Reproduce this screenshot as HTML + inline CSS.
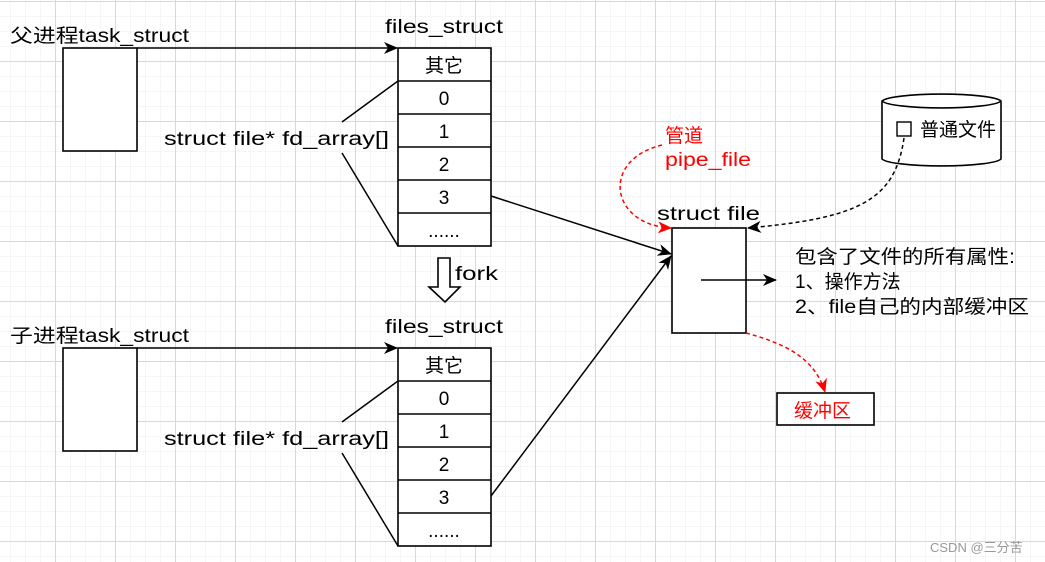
<!DOCTYPE html>
<html><head><meta charset="utf-8"><style>
html,body{margin:0;padding:0;background:#fff}
svg{display:block}
text{font-family:"Liberation Sans","Noto Sans CJK SC",sans-serif;font-size:19px;fill:#000}
.r{fill:#f00}
</style></head><body>
<svg width="1045" height="562" viewBox="0 0 1045 562" xmlns="http://www.w3.org/2000/svg">
<defs>
<pattern id="mi" width="15" height="15" patternUnits="userSpaceOnUse" x="10" y="1">
<path d="M0 0H15M0 0V15" stroke="#eeeeee" stroke-width="1" fill="none"/></pattern>
<pattern id="ma" width="60" height="60" patternUnits="userSpaceOnUse" x="55" y="1">
<path d="M0 0.5H60M0.5 0V60" stroke="#d8d8d8" stroke-width="1" fill="none"/></pattern>
<marker id="ab" markerWidth="14" markerHeight="14" refX="13" refY="6" orient="auto" markerUnits="userSpaceOnUse"><path d="M0,0 L14,6 L0,12 L4,6z" fill="#000"/></marker>
<marker id="ar" markerWidth="14" markerHeight="14" refX="13" refY="6" orient="auto" markerUnits="userSpaceOnUse"><path d="M0,0 L14,6 L0,12 L4,6z" fill="#f00"/></marker>
</defs>
<rect width="1045" height="562" fill="url(#mi)"/>
<rect width="1045" height="562" fill="url(#ma)"/>

<g stroke="#000" stroke-width="1.6" fill="#fff">
<rect x="63" y="48" width="74" height="103"/>
<rect x="63" y="348" width="74" height="103"/>
<rect x="398" y="48" width="93" height="198"/>
<path d="M398 81H491M398 114H491M398 147H491M398 180H491M398 213H491" fill="none"/>
<rect x="398" y="348" width="93" height="198"/>
<path d="M398 381H491M398 414H491M398 447H491M398 480H491M398 513H491" fill="none"/>
<rect x="672" y="228" width="74" height="105"/>
<rect x="777" y="393" width="97" height="32"/>
<path d="M882 101 A60 8 0 0 1 1001 101 V159 A60 8 0 0 1 882 159 Z"/>
<path d="M882 101 A60 8 0 0 0 1001 101" fill="none"/>
<rect x="897" y="122" width="14" height="14" stroke-width="1.4"/>
<path d="M438 258H450V287H460L445 302L429 287H438Z"/>
</g>
<g stroke="#000" stroke-width="1.5" fill="none">
<path d="M137 48H397" marker-end="url(#ab)"/>
<path d="M137 348H397" marker-end="url(#ab)"/>
<path d="M342 122L398 81M342 153L398 246"/>
<path d="M342 422L398 381M342 453L398 546"/>
<path d="M491 196L671 254" marker-end="url(#ab)"/>
<path d="M491 496L671 256" marker-end="url(#ab)"/>
<path d="M701 280H776" marker-end="url(#ab)"/>
<path d="M904 138C895 200 860 218 748 228" stroke-dasharray="4,3" marker-end="url(#ab)"/>
</g>
<g stroke="#f00" stroke-width="1.5" fill="none" stroke-dasharray="4,3">
<path d="M662 145C600 160 610 225 671 228" marker-end="url(#ar)"/>
<path d="M746 333C790 345 815 360 825 392" marker-end="url(#ar)"/>
</g>

<text x="10" y="42" textLength="179" lengthAdjust="spacingAndGlyphs">父进程task_struct</text>
<text x="10" y="342" textLength="179" lengthAdjust="spacingAndGlyphs">子进程task_struct</text>
<text x="385" y="33" textLength="118" lengthAdjust="spacingAndGlyphs">files_struct</text>
<text x="385" y="333" textLength="118" lengthAdjust="spacingAndGlyphs">files_struct</text>
<g text-anchor="middle">
<text x="444" y="72">其它</text><text x="444" y="105">0</text><text x="444" y="138">1</text><text x="444" y="171">2</text><text x="444" y="204">3</text><text x="444" y="237">......</text>
<text x="444" y="372">其它</text><text x="444" y="405">0</text><text x="444" y="438">1</text><text x="444" y="471">2</text><text x="444" y="504">3</text><text x="444" y="537">......</text>
</g>
<text x="164" y="145" textLength="225" lengthAdjust="spacingAndGlyphs">struct file* fd_array[]</text>
<text x="164" y="445" textLength="225" lengthAdjust="spacingAndGlyphs">struct file* fd_array[]</text>
<text x="455" y="280" textLength="43" lengthAdjust="spacingAndGlyphs">fork</text>
<text x="657" y="220" textLength="103" lengthAdjust="spacingAndGlyphs">struct file</text>
<text class="r" x="665" y="142">管道</text>
<text class="r" x="665" y="166" textLength="86" lengthAdjust="spacingAndGlyphs">pipe_file</text>
<text x="920" y="136">普通文件</text>
<text x="795" y="263" textLength="220" lengthAdjust="spacingAndGlyphs">包含了文件的所有属性:</text>
<text x="795" y="288">1、操作方法</text>
<text x="795" y="313" textLength="234" lengthAdjust="spacingAndGlyphs">2、file自己的内部缓冲区</text>
<text class="r" x="794" y="417">缓冲区</text>
<text x="930" y="552" style="font-size:13px;fill:#999">CSDN @三分苦</text>
</svg>
</body></html>
